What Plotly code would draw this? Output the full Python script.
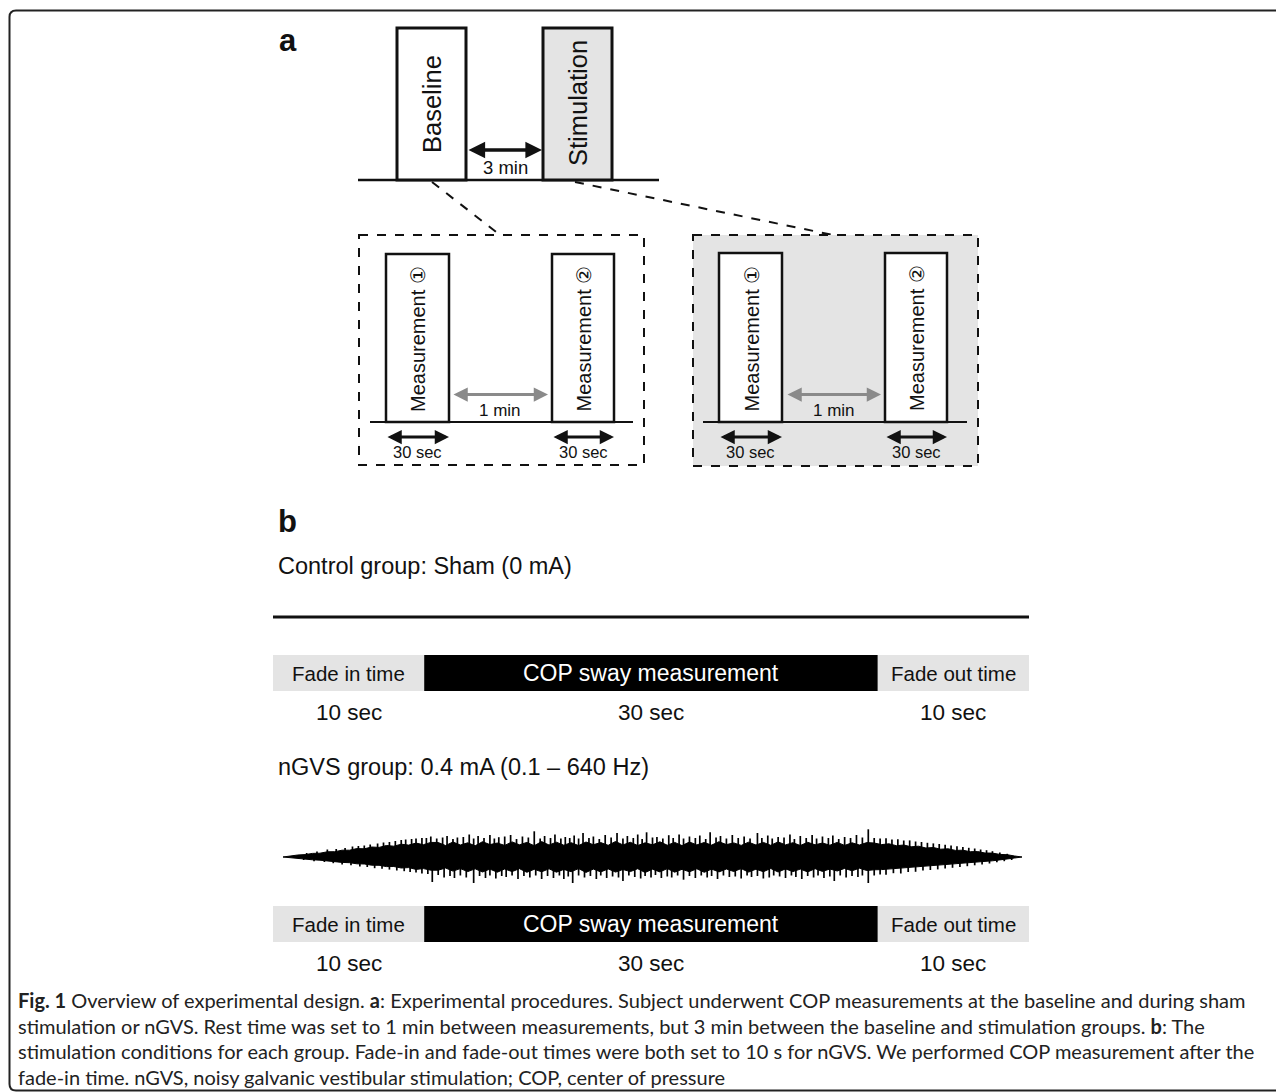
import plotly.graph_objects as go

# ---------------- data ----------------
phase_labels = ["Baseline", "Stimulation"]
phase_gap_label = "3 min"
measurement_labels = ["Measurement ①", "Measurement ②"]
measurement_gap_label = "1 min"
measurement_duration_label = "30 sec"

group_titles = ["Control group: Sham (0 mA)", "nGVS group: 0.4 mA (0.1 – 640 Hz)"]
segment_labels = ["Fade in time", "COP sway measurement", "Fade out time"]
segment_durations = [10, 30, 10]          # seconds
segment_duration_labels = ["10 sec", "30 sec", "10 sec"]

wave_upper = [0, 1.2, 2.0, 2.4, 3.6, 3.8, 5.2, 5.3, 6.8, 6.8, 8.4, 8.2, 10.0, 9.6, 11.5, 10.8, 12.8, 11.9, 13.9, 12.3, 14.6,
              14.5, 11.5, 15.0, 12.0, 14.2, 11.2, 15.3, 12.4, 14.0, 11.6,
              15.1, 12.2, 14.6, 11.3, 15.4, 12.0, 14.8, 11.8, 14.3, 11.4,
              15.0, 12.3, 14.4, 11.7, 15.5, 12.1, 14.7, 11.5, 14.2, 12.2,
              15.2, 11.8, 14.6, 11.4, 15.0, 12.1, 14.5, 11.9, 15.3, 12.4,
              14.1, 11.6, 14.8, 12.0, 14.6, 11.7, 15.1, 12.1, 14.3, 11.5,
              14.7, 12.2, 14.0, 11.8, 14.6, 11.6, 14.2, 12.0, 14.4,
              14.0, 12.4, 13.2, 11.3, 12.0, 10.2, 10.8, 9.0, 9.5, 7.8, 8.2, 6.6, 6.8, 5.3, 5.4, 4.0, 3.9, 2.6, 2.3, 1.0, 0]
wave_lower = [0, 0.9, 1.5, 2.0, 2.8, 3.2, 4.1, 4.5, 5.4, 5.7, 6.8, 7.0, 8.2, 8.3, 9.6, 9.5, 11.0, 10.6, 12.4, 11.6, 13.2,
              13.2, 11.0, 14.1, 11.6, 14.6, 11.8, 15.0, 12.1, 15.2, 12.0,
              14.6, 11.7, 15.3, 12.3, 14.8, 11.8, 15.2, 12.4, 14.7, 11.6,
              15.4, 12.1, 14.9, 11.9, 15.1, 12.5, 14.6, 11.7, 15.5, 12.2,
              14.9, 11.6, 15.2, 12.3, 14.8, 11.8, 15.3, 12.1, 14.9, 12.0,
              14.5, 11.6, 15.1, 12.2, 14.7, 11.5, 15.0, 11.9, 14.6, 12.1,
              14.9, 11.7, 14.4, 12.0, 14.0, 11.4, 13.8, 11.2, 13.5,
              12.8, 12.6, 11.8, 11.6, 10.9, 10.5, 9.9, 9.4, 8.8, 8.2, 7.6, 7.0, 6.5, 5.7, 5.2, 4.4, 3.8, 2.9, 2.2, 1.0, 0]

# individual noise peaks (time in s, amplitude)
spike_up_t = [1.6, 2.3, 3.0, 3.6, 4.2, 4.7, 5.1, 5.5, 5.9, 6.4, 6.8, 7.2, 7.6, 8.0, 8.3, 8.7, 9.0, 9.4, 9.7,
              10.0, 10.4, 10.8, 11.1, 11.5, 11.8, 12.2, 12.6, 12.9, 13.2,
              13.6, 14.0, 14.3, 14.6, 15.0, 15.4, 15.8, 16.2, 16.6, 17.0,
              17.4, 17.7, 18.1, 18.4, 18.8, 19.1, 19.4, 19.7, 20.0, 20.3,
              20.7, 21.0, 21.4, 21.8, 22.2, 22.6, 23.0, 23.3, 23.7, 24.0,
              24.3, 24.6, 25.0, 25.3, 25.7, 26.1, 26.4, 26.8, 27.1, 27.5,
              27.9, 28.2, 28.6, 28.9, 29.3, 29.6, 30.0, 30.4, 30.8, 31.2,
              31.6, 32.1, 32.4, 32.8, 33.1, 33.5, 33.9, 34.3, 34.6, 35.0,
              35.4, 35.8, 36.1, 36.5, 36.9, 37.2, 37.6, 38.0, 38.4, 38.8,
              39.2, 39.6,
              40.0, 40.4, 40.8, 41.2, 41.6, 42.0, 42.4, 42.8, 43.2, 43.6, 44.0, 44.4, 44.8, 45.2, 45.6, 46.0,
              46.4, 46.8, 47.2, 47.6, 48.0, 48.5, 49.0]
spike_up_amp = [4.0, 5.5, 7.5, 8.0, 9.0, 10.5, 11.0, 11.5, 12.5, 13.5, 14.5, 15.0, 16.0, 17.0, 17.5, 18.0, 18.5, 19.0, 19.0,
                20.5, 18.5, 19.5, 21.0, 18.0, 19.5, 20.0, 22.5, 18.5, 21.0,
                19.0, 22.0, 18.5, 19.8, 20.5, 22.0, 18.0, 20.5, 19.5, 25.7,
                18.5, 21.0, 19.0, 22.5, 18.5, 20.0, 19.0, 21.5, 18.5, 24.0,
                19.0, 20.5, 18.0, 22.0, 19.5, 24.0, 18.5, 21.0, 19.0, 22.5,
                18.0, 24.7, 19.5, 20.0, 18.5, 21.8, 19.0, 22.5, 18.5, 20.5,
                19.0, 21.5, 18.0, 24.7, 19.5, 21.0, 18.5, 22.0, 19.0, 20.5,
                18.5, 24.0, 19.0, 21.5, 18.5, 20.0, 19.5, 22.5, 18.0, 21.0,
                19.0, 22.0, 18.5, 20.5, 19.0, 21.5, 18.0, 20.0, 19.0, 22.0,
                19.5, 27.7,
                19.0, 18.5, 18.8, 17.5, 17.8, 16.5, 16.6, 15.5, 15.0, 14.2, 13.6, 13.0, 12.2, 11.5, 10.8, 10.0,
                9.2, 8.5, 7.5, 6.8, 5.8, 4.5, 3.2]
spike_dn_t = [1.4, 2.1, 2.8, 3.4, 4.0, 4.6, 5.2, 5.7, 6.2, 6.7, 7.2, 7.7, 8.2, 8.6, 9.0, 9.4, 9.8,
              10.1, 10.5, 10.9, 11.3, 11.6, 12.0, 12.4, 12.9, 13.3, 13.7,
              14.0, 14.4, 14.8, 15.1, 15.5, 15.9, 16.3, 16.7, 17.1, 17.5,
              17.9, 18.3, 18.7, 19.0, 19.3, 19.6, 20.0, 20.4, 20.8, 21.2,
              21.5, 21.9, 22.3, 22.7, 23.0, 23.4, 23.8, 24.2, 24.5, 24.9,
              25.2, 25.6, 26.0, 26.3, 26.7, 27.1, 27.5, 27.9, 28.3, 28.7,
              29.0, 29.4, 29.8, 30.2, 30.6, 31.0, 31.4, 31.7, 32.1, 32.5,
              32.9, 33.2, 33.6, 34.0, 34.4, 34.7, 35.1, 35.5, 35.9, 36.2,
              36.6, 37.0, 37.3, 37.7, 38.1, 38.5, 38.9, 39.2, 39.6,
              40.0, 40.4, 40.8, 41.3, 41.8, 42.3, 42.8, 43.3, 43.8, 44.3, 44.8, 45.3, 45.8, 46.3, 46.8, 47.3,
              47.8, 48.3, 48.8, 49.3]
spike_dn_amp = [3.0, 4.2, 5.0, 6.2, 7.5, 8.2, 9.4, 10.0, 11.2, 11.8, 12.6, 13.5, 14.2, 15.0, 15.5, 16.5, 17.0,
                25.0, 18.0, 20.5, 19.0, 21.0, 18.5, 20.5, 26.0, 19.0, 21.0,
                18.5, 21.5, 19.0, 20.0, 18.5, 22.0, 19.0, 20.5, 18.5, 22.0,
                19.0, 21.0, 18.5, 22.0, 19.5, 26.0, 18.5, 20.5, 19.0, 22.0,
                18.5, 21.0, 19.5, 20.5, 24.0, 18.5, 20.0, 21.5, 19.0, 20.5,
                18.0, 21.0, 19.5, 20.5, 18.5, 22.7, 19.0, 21.0, 18.5, 20.5,
                19.0, 22.0, 18.5, 20.0, 19.5, 21.5, 18.5, 20.0, 19.0, 21.5,
                20.5, 18.5, 19.5, 21.0, 18.5, 20.0, 22.0, 19.0, 20.5, 18.5,
                21.0, 19.5, 24.0, 18.5, 20.5, 19.0, 20.0, 18.5, 26.0,
                18.5, 17.5, 17.8, 16.2, 16.5, 15.0, 14.8, 13.6, 13.0, 12.4, 11.5, 10.8, 10.0, 9.2, 8.3, 7.4,
                6.5, 5.3, 4.2, 3.0]

caption_lines = [
    "<b>Fig. 1</b> Overview of experimental design. <b>a</b>: Experimental procedures. Subject underwent COP measurements at the baseline and during sham",
    "stimulation or nGVS. Rest time was set to 1 min between measurements, but 3 min between the baseline and stimulation groups. <b>b</b>: The",
    "stimulation conditions for each group. Fade-in and fade-out times were both set to 10 s for nGVS. We performed COP measurement after the",
    "fade-in time. nGVS, noisy galvanic vestibular stimulation; COP, center of pressure",
]

# ---------------- style / layout constants ----------------
PAGE_W, PAGE_H = 1284, 1092
OFF = 8                       # browser body margin
W, H = PAGE_W - OFF, PAGE_H - OFF
FONT = "Liberation Sans, Arial, sans-serif"
CAP_FONT = "Lato, Open Sans, sans-serif"
INK = "#111111"
GRAY_FILL = "#e4e4e4"
GRAY_ARROW = "#8a8a8a"
TOTAL = sum(segment_durations)


def xdom(p0, p1):
    return [(p0 - OFF) / W, (p1 - OFF) / W]


def ydom(top, bottom):
    return [(PAGE_H - bottom) / H, (PAGE_H - top) / H]


fig = go.Figure()
shapes = []
ann = []


def rect(x0, y0, x1, y1, fill="white", width=2.5, dash="solid", color=INK):
    shapes.append(dict(type="rect", xref="x", yref="y", x0=x0, y0=y0, x1=x1, y1=y1,
                       fillcolor=fill, line=dict(color=color, width=width, dash=dash)))


def line(x0, y0, x1, y1, width=2.5, dash="solid", color=INK, xref="x"):
    shapes.append(dict(type="line", xref=xref, yref="y", x0=x0, y0=y0, x1=x1, y1=y1,
                       line=dict(color=color, width=width, dash=dash)))


def darrow(x0, x1, y, color=INK, width=3):
    ann.append(dict(x=x1, y=y, ax=x0, ay=y, xref="x", yref="y", axref="x", ayref="y",
                    text="", showarrow=True, arrowside="end+start", arrowhead=2, startarrowhead=2,
                    arrowsize=0.95, startarrowsize=0.95, arrowwidth=width, arrowcolor=color,
                    standoff=0, startstandoff=0))


def text(x, y, s, size, color=INK, angle=0, xanchor="center", font=FONT, xref="x"):
    ann.append(dict(x=x, y=y, xref=xref, yref="y", text=s, showarrow=False, textangle=angle,
                    xanchor=xanchor, yanchor="middle", font=dict(family=font, size=size, color=color)))


# outer frame with rounded left corners
shapes.append(dict(type="path", xref="x", yref="y",
                   path="M 1300,10.5 L 16,10.5 Q 9.5,10.5 9.5,17 L 9.5,1084 Q 9.5,1090.5 16,1090.5 L 1300,1090.5",
                   line=dict(color="#222222", width=2)))

# ---------------- panel a ----------------
text(288, 40, "<b>a</b>", 31)
line(358, 180, 659, 180, width=2.5)
rect(397, 28, 466, 180, fill="white", width=3)
rect(543, 28, 612, 180, fill=GRAY_FILL, width=3)
text(432, 104, phase_labels[0], 25.5, angle=-90)
text(578, 103, phase_labels[1], 25.5, angle=-90)
darrow(467, 542, 150, width=3.5)
text(505, 167, phase_gap_label, 18.5)

# zoom connectors
line(432, 182, 500, 235, width=2, dash="dash")
line(575, 182, 838, 236, width=2, dash="dash")

# measurement detail boxes
rect(359, 235, 644, 465, fill="rgba(0,0,0,0)", width=2, dash="dash")
rect(693, 235, 978, 466, fill=GRAY_FILL, width=2, dash="dash")

groups = [
    dict(base=(370, 633), boxes=[(386, 449), (552, 614)], top=254, gap=(452, 548)),
    dict(base=(703, 967), boxes=[(719, 782), (885, 947)], top=253, gap=(786, 881)),
]
for g in groups:
    line(g["base"][0], 422, g["base"][1], 422, width=2)
    for (bx0, bx1), lab in zip(g["boxes"], measurement_labels):
        rect(bx0, g["top"], bx1, 422, fill="white", width=2.5)
        text((bx0 + bx1) / 2 + 0.5, (g["top"] + 422) / 2 + 1, lab, 20, angle=-90)
        darrow(bx0, bx1, 437, width=3)
        text((bx0 + bx1) / 2, 452, measurement_duration_label, 16.5)
    darrow(g["gap"][0], g["gap"][1], 394.5, color=GRAY_ARROW, width=3)
    text((g["gap"][0] + g["gap"][1]) / 2, 410, measurement_gap_label, 17)

# ---------------- panel b ----------------
text(287, 521, "<b>b</b>", 31)
starts = [sum(segment_durations[:i]) for i in range(len(segment_durations))]
mids = [s + d / 2 for s, d in zip(starts, segment_durations)]
seg_colors = [GRAY_FILL, "#000000", GRAY_FILL]
seg_text_colors = [INK, "white", INK]
seg_text_sizes = [20.5, 23, 20.5]

rows = [
    dict(title_y=566, bar_y=673, dur_y=712),
    dict(title_y=767, bar_y=924, dur_y=963),
]
for row, title in zip(rows, group_titles):
    text(276, row["title_y"], title, 23.5, xanchor="left")
    fig.add_trace(go.Bar(orientation="h", y=[row["bar_y"]] * 3, x=segment_durations, base=starts,
                         width=36, marker=dict(color=seg_colors, line=dict(width=0)),
                         xaxis="x2", yaxis="y", hoverinfo="skip", showlegend=False))
    for m, lab, c, sz, dl in zip(mids, segment_labels, seg_text_colors, seg_text_sizes, segment_duration_labels):
        text(m, row["bar_y"], lab, sz, color=c, xref="x2")
        text(m, row["dur_y"], dl, 22.5, xref="x2")

# control (sham): flat 0 mA line
line(0, 617, TOTAL, 617, width=3, xref="x2")

# nGVS noise waveform
n = len(wave_upper)
tt = [TOTAL * i / (n - 1) for i in range(n)]
poly_x = tt + tt[::-1]
poly_y = wave_upper + [-v for v in wave_lower[::-1]]
fig.add_trace(go.Scatter(x=poly_x, y=poly_y, fill="toself", fillcolor="black", mode="lines",
                         line=dict(color="black", width=1), xaxis="x3", yaxis="y3",
                         hoverinfo="skip", showlegend=False))
sx, sy = [], []
for t, a in zip(spike_up_t, spike_up_amp):
    sx += [t, t, None]
    sy += [0, a, None]
for t, a in zip(spike_dn_t, spike_dn_amp):
    sx += [t, t, None]
    sy += [0, -a, None]
fig.add_trace(go.Scatter(x=sx, y=sy, mode="lines", line=dict(color="black", width=1.7),
                         xaxis="x3", yaxis="y3", hoverinfo="skip", showlegend=False))

# ---------------- caption ----------------
for i, s in enumerate(caption_lines):
    text(16, 1000 + i * 25.5, s, 20, color="#222222", xanchor="left", font=CAP_FONT)

fig.update_layout(
    width=W, height=H, margin=dict(l=0, r=0, t=0, b=0),
    paper_bgcolor="white", plot_bgcolor="white", showlegend=False, barmode="overlay",
    xaxis=dict(range=[OFF, PAGE_W], domain=[0, 1], visible=False, fixedrange=True),
    yaxis=dict(range=[PAGE_H, OFF], domain=[0, 1], visible=False, fixedrange=True),
    xaxis2=dict(range=[0, TOTAL], domain=xdom(273, 1029), visible=False, anchor="y", fixedrange=True),
    xaxis3=dict(range=[0, TOTAL], domain=xdom(283, 1022), visible=False, anchor="y3", fixedrange=True),
    yaxis3=dict(range=[-30, 30], domain=ydom(827, 887), visible=False, anchor="x3", fixedrange=True),
    shapes=shapes, annotations=ann,
)

fig.write_html("out.html")
